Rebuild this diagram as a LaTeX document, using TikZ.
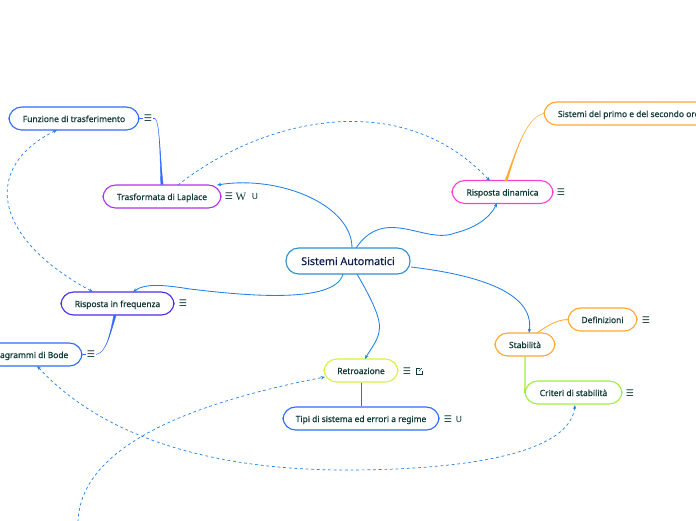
\documentclass[tikz,border=0pt]{standalone}
\usepackage{fontspec}
\setmainfont[FakeBold=0.6]{Noto Sans}
\newfontfamily\iconfont{DejaVu Sans}
\newfontfamily\wikifont{Liberation Serif}
\usetikzlibrary{arrows.meta,calc}

\definecolor{rootblue}{HTML}{2F8FD0}
\definecolor{linkblue}{HTML}{1F80E8}
\definecolor{topicblue}{HTML}{2F6BFF}
\definecolor{topicviolet}{HTML}{B030F0}
\definecolor{topicpink}{HTML}{FF40D8}
\definecolor{topicindigo}{HTML}{4A2CF0}
\definecolor{topicorange}{HTML}{FFA830}
\definecolor{topiclime}{HTML}{D4F53C}
\definecolor{topicgreen}{HTML}{A0EE40}
\definecolor{roottext}{HTML}{0F1F4F}
\definecolor{topictext}{HTML}{103A33}

% tapered branch: colour, thick end, two controls, thin end, half width
\newcommand{\branch}[6]{%
  \filldraw[#1,line width=0.25pt] ($#2+(-#6,0)$) .. controls #3 and #4 .. #5 .. controls #4 and #3 .. ($#2+(#6,0)$) -- cycle;}

\begin{document}
\begin{tikzpicture}[x=0.025cm,y=-0.025cm,
  topic/.style={rectangle,draw,rounded corners=9pt,line width=0.8pt,fill=white,
                minimum height=0.575cm,inner sep=0pt,text=topictext,
                text height=5.5pt,text depth=0.5pt,
                font=\fontsize{6pt}{7pt}\selectfont},
  root/.style={topic,draw=rootblue,text=roottext,minimum height=0.65cm,
               text height=6.2pt,text depth=0.5pt,
               font=\fontsize{7.6pt}{9pt}\selectfont},
  icon/.style={inner sep=0.6pt,fill=white,text=topictext,font=\iconfont\fontsize{6.5pt}{7pt}\selectfont},
  tick/.style={icon,font=\iconfont\fontsize{6pt}{6pt}\selectfont},
  link/.style={-{Stealth[length=3pt,width=2.4pt]},linkblue,line width=0.6pt},
  relation/.style={{Stealth[length=3pt,width=2.4pt]}-{Stealth[length=3pt,width=2.4pt]},linkblue,
                   line width=0.5pt,dash pattern=on 2pt off 2pt},
  relone/.style={-{Stealth[length=3pt,width=2.4pt]},linkblue,
                 line width=0.5pt,dash pattern=on 2pt off 2pt}]

\useasboundingbox (0,0) rectangle (696,520);
\clip (0,0) rectangle (696,520);

\node[root,minimum width=3.1cm] (auto) at (348,261) {Sistemi Automatici};
\node[topic,draw=topicblue,minimum width=3.25cm] (funz) at (74,118.5) {Funzione di trasferimento};
\node[topic,draw=topicviolet,minimum width=2.95cm] (lapl) at (162,196.5) {Trasformata di Laplace};
\node[topic,draw=topicpink,minimum width=2.525cm] (dina) at (502.5,192) {Risposta dinamica};
\node[topic,draw=topicorange,minimum width=4.55cm] (ordi) at (635,113.5) {Sistemi del primo e del secondo ordine};
\node[topic,draw=topicindigo,minimum width=2.825cm] (freq) at (117.5,303.5) {Risposta in frequenza};
\node[topic,draw=topicblue,minimum width=2.6cm] (bode) at (30,354.5) {Diagrammi di Bode};
\node[topic,draw=topiclime,minimum width=1.85cm] (retr) at (361,370.5) {Retroazione};
\node[topic,draw=topicblue,minimum width=3.9cm] (tipi) at (361,418.5) {Tipi di sistema ed errori a regime};
\node[topic,draw=topicorange,minimum width=1.5cm] (stab) at (525,344.5) {Stabilità};
\node[topic,draw=topicorange,minimum width=1.725cm] (defi) at (602.5,319.5) {Definizioni};
\node[topic,draw=topicgreen,minimum width=2.425cm] (crit) at (573.5,392.5) {Criteri di stabilità};

% branches between topics
\draw[topicblue,line width=0.3pt] (funz.east) -- (155,118.5);
\branch{topicblue}{(lapl.north)}{(160,160)}{(160,122)}{(155,118.5)}{1.2}
\draw[topicblue,line width=0.3pt] (bode.east) -- (96,354.5);
\branch{topicblue}{(115,315)}{(110,335)}{(106,353)}{(96,354.5)}{1.2}
\draw[topicblue,line width=0.6pt] (retr.south) -- (tipi.north);
\branch{topicorange}{(506,181)}{(515,155)}{(525,118)}{(ordi.west)}{1.2}
\draw[topicorange,line width=0.6pt] (537,333) .. controls (547,326) and (556,320) .. (defi.west);
\draw[topicgreen,line width=1pt] (525,356) -- (525,380) .. controls (525,388) and (525,392) .. (crit.west);

% main links
\draw[link] (352,248) .. controls (352,205) and (280,175) .. (217,185);
\draw[link] (356,248) .. controls (385,205) and (425,245) .. (455,233) .. controls (475,228) and (490,218) .. (497,203);
\draw[link] (343,274) .. controls (335,305) and (240,295) .. (190,289) .. controls (165,285) and (145,283) .. (133,292);
\draw[link] (357,274) .. controls (372,300) and (382,320) .. (379,332) .. controls (377,342) and (370,350) .. (365,359);
\draw[link] (411,267) .. controls (470,274) and (535,290) .. (529,333);

% relations
\draw[relone] (178,185) .. controls (260,120) and (400,85) .. (490,181);
\draw[relation] (57,130) .. controls (-15,165) and (-12,235) .. (93,292);
\draw[relation] (37,366) .. controls (110,445) and (230,470) .. (345,470) .. controls (480,470) and (570,450) .. (575,405);
\coordinate (retrfree) at (78,522);
\draw[relone] (retrfree) .. controls (80,450) and (180,405) .. (325,377);

% icons
\node[icon] (ifunz) at (148,118.5) {☰};
\node[icon] (ilapl) at (229,196.5) {☰};
\node[icon,font=\wikifont\fontsize{8pt}{8pt}\selectfont] (wlapl) at (241,196.5) {W};
\node[tick] (ulapl) at (255,196.5) {Ս};
\node[icon] (idina) at (561,192) {☰};
\node[icon] (ifreq) at (183,303.5) {☰};
\node[icon] (ibode) at (91,354.5) {☰};
\node[icon] (iretr) at (407,371) {☰};
\coordinate (oretr) at (419,371);
\draw[topictext,line width=0.4pt] ($(oretr)+(1,-3)$) -| ($(oretr)+(-3,3)$) -| ($(oretr)+(3,0)$);
\draw[topictext,line width=0.4pt] (oretr) -- ($(oretr)+(3,-3)$);
\node[icon] (itipi) at (448,419) {☰};
\node[tick] (utipi) at (459,419) {Ս};
\node[icon] (idefi) at (646,320) {☰};
\node[icon] (icrit) at (630,393) {☰};
\end{tikzpicture}
\end{document}
